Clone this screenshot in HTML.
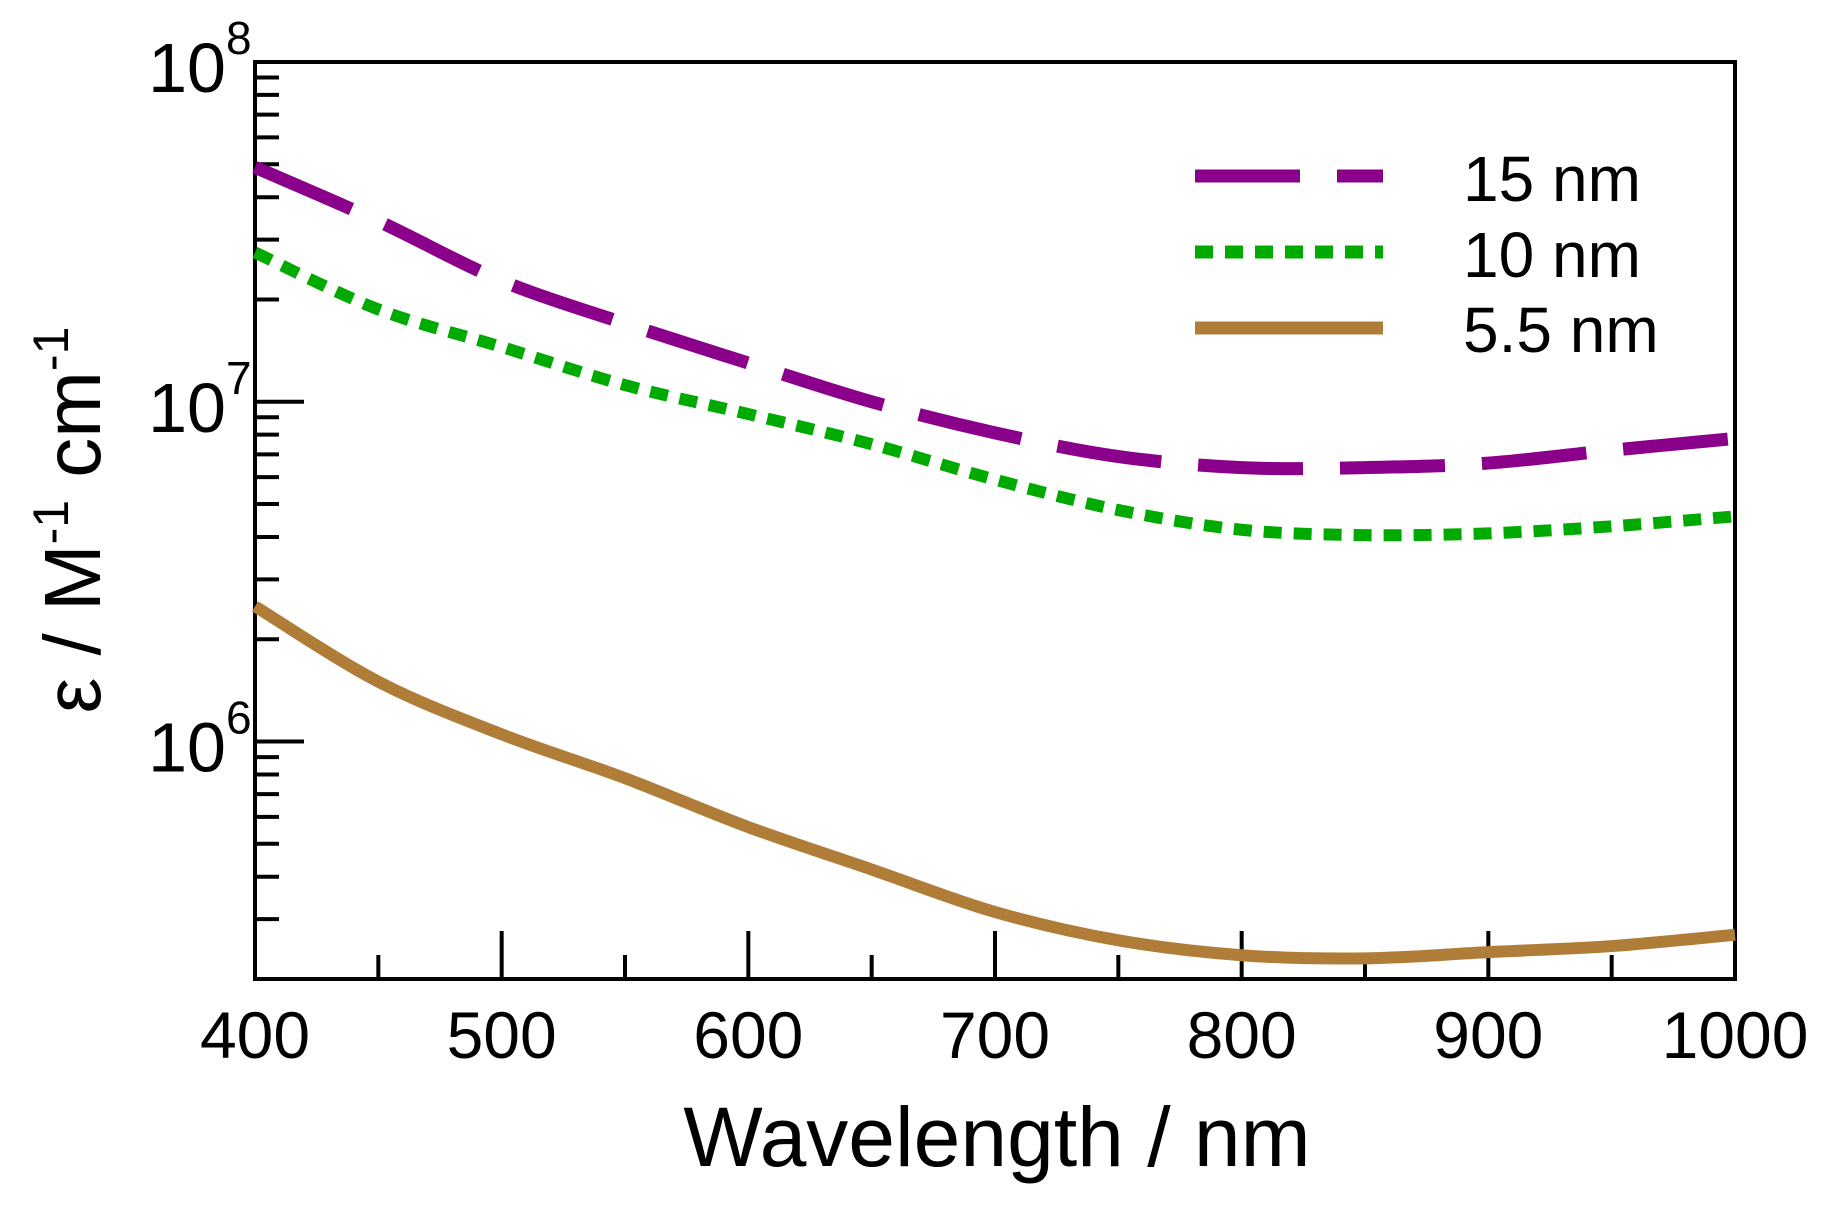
<!DOCTYPE html>
<html><head><meta charset="utf-8"><style>
html,body{margin:0;padding:0;background:#fff;}
svg{display:block;font-family:"Liberation Sans",Arial,sans-serif;}
</style></head><body>
<svg id="chart" width="1828" height="1217" viewBox="0 0 1828 1217" xmlns="http://www.w3.org/2000/svg">
<g id="axes"></g>
<g id="series"></g>
<g id="legend"></g>
</svg>
<script>
const wavelengths = [400,450,500,550,600,650,700,750,800,850,900,950,1000];
const eps15 = [4.9e7,3.4e7,2.27e7,1.7e7,1.3e7,1.0e7,8.1e6,6.9e6,6.4e6,6.4e6,6.6e6,7.2e6,7.8e6];
const eps10 = [2.75e7,1.87e7,1.45e7,1.12e7,9.2e6,7.5e6,5.9e6,4.8e6,4.2e6,4.05e6,4.1e6,4.3e6,4.6e6];
const eps55 = [2.5e6,1.5e6,1.05e6,7.8e5,5.6e5,4.2e5,3.15e5,2.6e5,2.35e5,2.3e5,2.4e5,2.5e5,2.7e5];
const xTicks = [400,500,600,700,800,900,1000];
const xMinorTicks = [450,550,650,750,850,950];
const yMajorExp = [6,7,8];
const seriesNames = ["15 nm","10 nm","5.5 nm"];

const NS="http://www.w3.org/2000/svg";
const L=255,R=1735,T=62,B=979;
const xMin=400,xMax=1000,yMinLog=Math.log10(2e5),yMaxLog=8;
function xs(v){return L+(v-xMin)/(xMax-xMin)*(R-L);}
function ys(v){return B-(Math.log10(v)-yMinLog)/(yMaxLog-yMinLog)*(B-T);}
function mk(tag,attrs,parent){const e=document.createElementNS(NS,tag);for(const k in attrs)e.setAttribute(k,attrs[k]);parent.appendChild(e);return e;}
const axes=document.getElementById('axes');
const frame=mk('rect',{x:L,y:T,width:R-L,height:B-T,fill:'none',stroke:'#000','stroke-width':4},axes);


xTicks.forEach(v=>{
  const t=mk('line',{x1:xs(v),x2:xs(v),y1:B,y2:B-48,stroke:'#000','stroke-width':4},axes);
  
  
  const lb=mk('text',{x:xs(v),y:1058,'font-size':66,'text-anchor':'middle'},axes);
  lb.textContent=v;
  
  
});
xMinorTicks.forEach(v=>{
  const t=mk('line',{x1:xs(v),x2:xs(v),y1:B,y2:B-24,stroke:'#000','stroke-width':4},axes);
  
  
});
for(let e=5;e<=7;e++){
  for(let m=2;m<=9;m++){
    const v=m*Math.pow(10,e);
    if(v<2e5||v>1e8)continue;
    const t=mk('line',{x1:L,x2:L+24,y1:ys(v),y2:ys(v),stroke:'#000','stroke-width':4},axes);
    
    
  }
}
yMajorExp.forEach(e=>{
  const y=ys(Math.pow(10,e));
  const t=mk('line',{x1:L,x2:L+49,y1:y,y2:y,stroke:'#000','stroke-width':4},axes);
  
  
  const lb=mk('text',{x:226,y:y+30,'font-size':70,'text-anchor':'end'},axes);
  lb.textContent='10';
  
  
  const sp=mk('text',{x:226,y:y-8,'font-size':46,'text-anchor':'start'},axes);
  sp.textContent=String(e);
  
  
});
const xt=mk('text',{x:997,y:1166,'font-size':84,'text-anchor':'middle'},axes);
xt.textContent='Wavelength / nm';


const yt=mk('text',{transform:'translate(100,520) rotate(-90)','font-size':80,'text-anchor':'middle'},axes);
yt.innerHTML='ε / M<tspan font-size="50" dy="-32">-1</tspan><tspan dy="32"> cm</tspan><tspan font-size="50" dy="-32">-1</tspan>';



function pathFor(vals){
  const p=wavelengths.map((w,i)=>[xs(w),ys(vals[i])]);
  let d='M'+p[0][0]+','+p[0][1];
  for(let i=0;i<p.length-1;i++){
    const p0=p[i-1]||p[i],p1=p[i],p2=p[i+1],p3=p[i+2]||p[i+1];
    const c1=[p1[0]+(p2[0]-p0[0])/6,p1[1]+(p2[1]-p0[1])/6];
    const c2=[p2[0]-(p3[0]-p1[0])/6,p2[1]-(p3[1]-p1[1])/6];
    d+=' C'+c1[0]+','+c1[1]+' '+c2[0]+','+c2[1]+' '+p2[0]+','+p2[1];
  }
  return d;
}
const sg=document.getElementById('series');
const styles=[
  {vals:eps15,color:'#8b008b',dash:'105 37',w:13,name:'series-15nm'},
  {vals:eps10,color:'#00aa00',dash:'18 12',w:12,name:'series-10nm'},
  {vals:eps55,color:'#b07d38',dash:'none',w:12,name:'series-5-5nm'}
];
styles.forEach(s=>{
  const p=mk('path',{d:pathFor(s.vals),fill:'none',stroke:s.color,'stroke-width':s.w,'stroke-dasharray':s.dash},sg);
  
  
});
const lg=document.getElementById('legend');
const ly=[176,252,328],lb=[201,277,352];
styles.forEach((s,i)=>{
  const l=mk('line',{x1:1195,x2:1383,y1:ly[i],y2:ly[i],stroke:s.color,'stroke-width':13,'stroke-dasharray':s.dash},lg);
  
  
  const t=mk('text',{x:1463,y:lb[i],'font-size':64},lg);
  t.textContent=seriesNames[i];
  
  
});
</script>
</body></html>
